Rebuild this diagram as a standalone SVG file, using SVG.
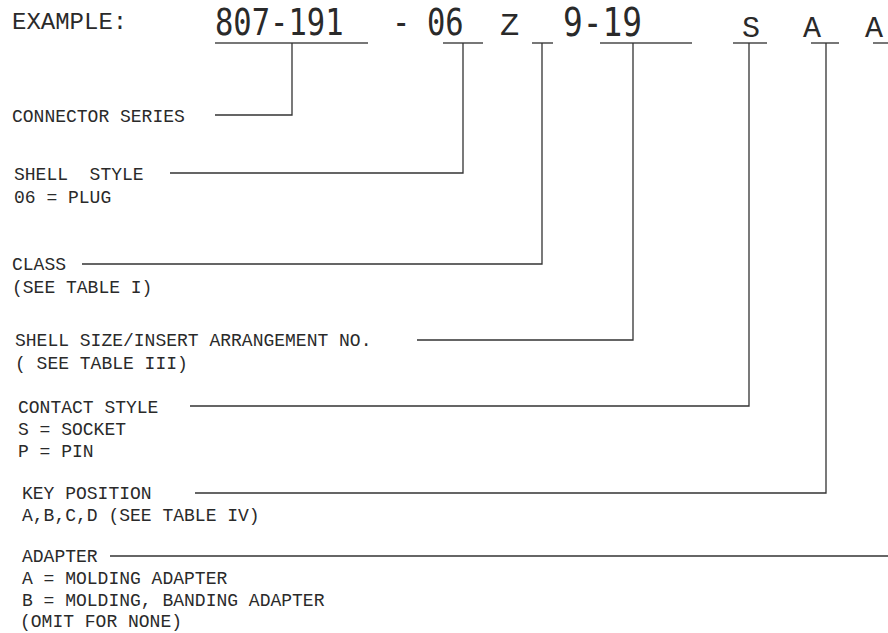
<svg xmlns="http://www.w3.org/2000/svg" width="888" height="633" viewBox="0 0 888 633">
<style>
.lbl{font-family:"Liberation Mono","Courier New",monospace;font-size:18px;fill:#2a2a2a}
.big{font-family:"DejaVu Sans Mono",monospace;fill:#2a2a2a}
.ser{font-family:"Liberation Mono","Courier New",monospace;fill:#2a2a2a}
.ul{stroke:#777;stroke-width:2;fill:none}
.cn{stroke:#333;stroke-width:1.3;fill:none}
</style>
<rect width="888" height="633" fill="#fff"/>
<g id="header">
<text class="ser" x="12" y="29" font-size="24">EXAMPLE:</text>
<text class="big" font-size="30.5" transform="translate(215,35) scale(1,1.21)">807-191</text>
<text class="big" font-size="30.5" transform="translate(392,35) scale(1,1.21)">-</text>
<text class="big" font-size="30.5" transform="translate(427,35) scale(1,1.21)">06</text>
<text class="ser" x="500" y="35" font-size="32">Z</text>
<text class="big" font-size="32.8" transform="translate(563,36) scale(1,1.21)">9-19</text>
<text class="ser" x="742" y="37" font-size="30">S</text>
<text class="ser" x="803" y="37" font-size="30">A</text>
<text class="ser" x="865" y="37" font-size="30">A</text>
</g>
<g id="underlines">
<line class="ul" x1="215" y1="43" x2="368" y2="43"/>
<line class="ul" x1="443" y1="43" x2="483" y2="43"/>
<line class="ul" x1="532" y1="43" x2="553" y2="43"/>
<line class="ul" x1="600" y1="43" x2="692" y2="43"/>
<line class="ul" x1="733" y1="43" x2="767" y2="43"/>
<line class="ul" x1="811" y1="43" x2="839" y2="43"/>
<line class="ul" x1="873" y1="43" x2="888" y2="43"/>
</g>
<g id="connectors">
<polyline class="cn" points="292,43 292,115 215,115"/>
<polyline class="cn" points="463,43 463,173 170,173"/>
<polyline class="cn" points="542,43 542,264 82,264"/>
<polyline class="cn" points="633,43 633,340 417,340"/>
<polyline class="cn" points="749,43 749,406 190,406"/>
<polyline class="cn" points="826,43 826,493 195,493"/>
<line class="cn" x1="110" y1="556" x2="888" y2="556"/>
</g>
<g id="connector-series"><text class="lbl" x="12" y="122">CONNECTOR SERIES</text></g>
<g id="shell-style"><text class="lbl" x="14" y="180" xml:space="preserve">SHELL  STYLE</text><text class="lbl" x="14" y="203">06 = PLUG</text></g>
<g id="class"><text class="lbl" x="12" y="270">CLASS</text><text class="lbl" x="12" y="293">(SEE TABLE I)</text></g>
<g id="shell-size"><text class="lbl" x="15" y="346">SHELL SIZE/INSERT ARRANGEMENT NO.</text><text class="lbl" x="15" y="369" xml:space="preserve">( SEE TABLE III)</text></g>
<g id="contact-style"><text class="lbl" x="18" y="413">CONTACT STYLE</text><text class="lbl" x="18" y="435">S = SOCKET</text><text class="lbl" x="18" y="457">P = PIN</text></g>
<g id="key-position"><text class="lbl" x="22" y="499">KEY POSITION</text><text class="lbl" x="22" y="521">A,B,C,D (SEE TABLE IV)</text></g>
<g id="adapter"><text class="lbl" x="22" y="562">ADAPTER</text><text class="lbl" x="22" y="584">A = MOLDING ADAPTER</text><text class="lbl" x="22" y="606">B = MOLDING, BANDING ADAPTER</text><text class="lbl" x="20" y="627">(OMIT FOR NONE)</text></g>
</svg>
